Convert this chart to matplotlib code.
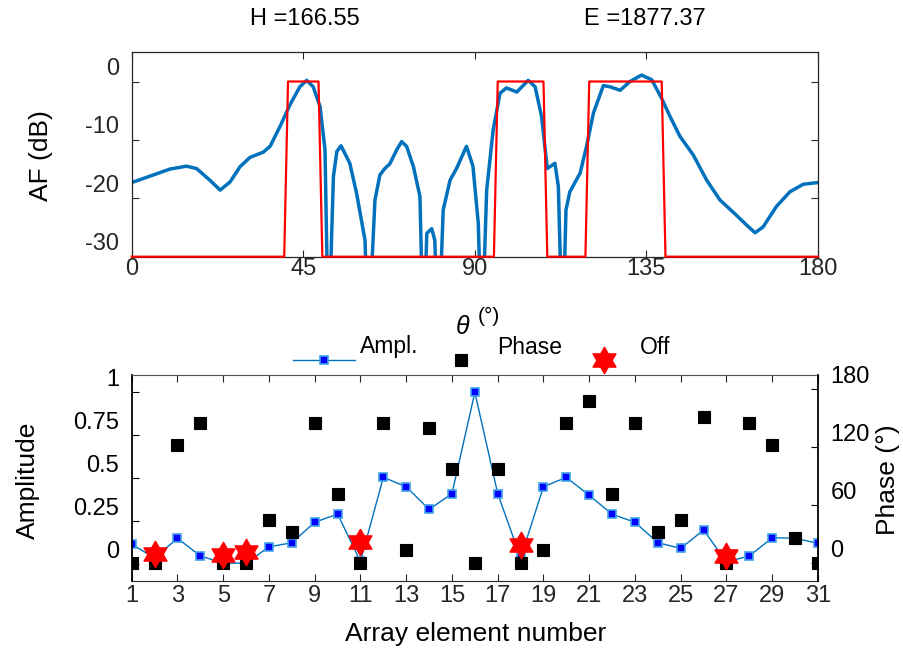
import numpy as np
import matplotlib; matplotlib.use("Agg")
import matplotlib.pyplot as plt
from matplotlib.path import Path
from matplotlib.transforms import ScaledTranslation

plt.rcParams.update({"font.family": ["Liberation Sans", "DejaVu Sans"],
                     "axes.unicode_minus": False})

# ---- top panel: array factor vs theta ----
theta_af = [0, 5.7, 10, 14.4, 17.0, 20.5, 23.2, 25.8, 28.4, 31.0, 34.5, 36.3, 38.9, 41.5, 44.1,
            45.9, 47.6, 49.4, 50.7, 51.6, 52.9, 53.8, 54.9, 57.2, 59.0, 61.2, 62.0, 63.8, 65.1,
            66.4, 67.7, 69.5, 70.8, 72.1, 73.9, 75.6, 76.5, 77.4, 78.7, 79.5, 80.4, 81.7, 83.5,
            85.2, 87.8, 89.5, 90.9, 91.8, 93.1, 94.8, 96.6, 98.3, 101.0, 104.0, 105.8, 107.5,
            109.0, 111.0, 111.9, 113.0, 113.9, 114.9, 117.6, 119.3, 121.1, 123.7, 125.4, 128.1,
            130.7, 133.7, 136.4, 139.0, 141.2, 143.8, 147.3, 150.8, 154.3, 158.6, 161.3, 163.5,
            165.6, 169.1, 172.6, 176.1, 180]
af_db = [-17.3, -16.0, -15.0, -14.5, -14.9, -16.9, -18.6, -17.2, -14.6, -13.0, -12.1, -11.1,
         -7.7, -4.0, -0.9, 0.2, -0.9, -4.3, -11.7, -45, -16.3, -12.0, -11.0, -14.0, -19.2,
         -27.2, -45, -20.3, -16.0, -14.9, -14.1, -11.7, -10.3, -11.1, -14.6, -19.7, -45,
         -26.0, -25.2, -27.2, -45, -22.0, -16.9, -14.9, -11.1, -14.5, -24.3, -45, -18.6,
         -8.3, -2.0, -1.1, -1.8, 0.2, -0.9, -6.0, -14.9, -14.0, -18.0, -45, -22.0, -18.9,
         -15.7, -11.1, -5.4, -0.7, -0.9, -1.5, 0.0, 1.1, 0.3, -2.9, -6.0, -9.4, -12.6, -16.9,
         -20.3, -22.9, -24.6, -25.9, -24.9, -21.4, -18.9, -17.6, -17.3]
mask_theta = [0, 40, 41, 49, 50, 95, 96, 108, 109, 119, 120, 139, 140, 180]
mask_db = [-30, -30, 0, 0, -30, -30, 0, 0, -30, -30, 0, 0, -30, -30]

# ---- bottom panel: excitations ----
elements = np.arange(1, 32)
ampl = [0.115, 0.035, 0.15, 0.047, 0.005, 0.005, 0.10, 0.124, 0.243, 0.291, 0.015, 0.505,
        0.45, 0.318, 0.41, 1.0, 0.41, 0.035, 0.45, 0.505, 0.40, 0.29, 0.243, 0.124, 0.091,
        0.198, 0.012, 0.047, 0.153, 0.15, 0.12]
phase = [0, 0, 122, 145, 0, 0, 45, 32, 145, 72, 0, 145, 14, 140, 97, 0, 97, 0, 14, 145,
         168, 72, 145, 32, 45, 151, 0, 145, 122, 26, 0]
off_el = [2, 5, 6, 11, 18, 27]
off_val = [0.058, 0.052, 0.072, 0.13, 0.11, 0.047]

W, H = 904, 650
fig = plt.figure(figsize=(W/100, H/100), dpi=100, facecolor="white")
def fx(x): return x/W
def fy(y): return 1 - y/H
up = ScaledTranslation(0, 0.15, fig.dpi_scale_trans)
FS = 17
AXC = "#262626"

ax1 = fig.add_axes([fx(131.7), fy(256.7), fx(818)-fx(131.7), fy(52.3)-fy(256.7)])
ax1.plot(theta_af, af_db, color="#0072BD", lw=2.5, zorder=2,
         solid_joinstyle="round", solid_capstyle="round")
ax1.plot(mask_theta, mask_db, color="#FF0000", lw=1.6, zorder=3, clip_on=False)
ax1.set_xlim(0, 180); ax1.set_ylim(-30, 5)
ax1.set_xticks([0, 45, 90, 135, 180]); ax1.set_yticks([-30, -20, -10, 0])
ax1.tick_params(direction="in", top=True, right=True, length=5, width=0.8, labelsize=FS, colors=AXC)
ax1.tick_params(axis="x", pad=1); ax1.tick_params(axis="y", pad=9)
for s in ax1.spines.values(): s.set_color(AXC); s.set_linewidth(0.9)
for lab in ax1.get_yticklabels(): lab.set_transform(lab.get_transform() + up)

ax2 = fig.add_axes([fx(131.7), fy(581), fx(818)-fx(131.7), fy(375)-fy(581)])
ln, = ax2.plot(elements, ampl, "-s", color="#0072BD", lw=1.0, ms=5.4,
               mfc="#0000FF", mec="#3FA3EA", mew=1.2)
ax2.set_xlim(1, 31); ax2.set_ylim(-0.099, 1.101)
ax2.set_xticks(np.arange(1, 32, 2)); ax2.set_yticks([0, 0.25, 0.5, 0.75, 1])
ax2.set_yticklabels(["0", "0.25", "0.5", "0.75", "1"])
ax2.tick_params(direction="in", top=True, length=5, width=0.8, labelsize=FS, colors=AXC)
ax2.tick_params(axis="x", pad=3); ax2.tick_params(axis="y", pad=9, colors="black")
ax2.spines["right"].set_visible(False)
ax2.spines["top"].set_color("#555555"); ax2.spines["bottom"].set_color(AXC)
ax2.spines["left"].set_color("black"); ax2.spines["left"].set_linewidth(1.3)

ax2r = ax2.twinx()
ph, = ax2r.plot(elements, phase, "s", color="black", ms=8.3, mew=0.8, ls="none")
ax2r.set_ylim(-18.3, 194.5); ax2r.set_yticks([0, 60, 120, 180])
ax2r.tick_params(direction="in", length=5, width=0.8, labelsize=FS, pad=9, colors="black")
for k in ("top", "bottom", "left"): ax2r.spines[k].set_visible(False)
ax2r.spines["right"].set_color("black"); ax2r.spines["right"].set_linewidth(1.3)

star = Path.unit_regular_star(6, 1/np.sqrt(3))
ax2s = ax2.twinx()
st, = ax2s.plot(off_el, off_val, marker=star, ms=19, color="#FF0000", ls="none")
ax2s.set_ylim(ax2.get_ylim()); ax2s.axis("off")

for lab in ax2.get_yticklabels() + ax2r.get_yticklabels():
    lab.set_transform(lab.get_transform() + up)

leg = fig.legend([ln, ph, st], ["Ampl.", "Phase", "Off"], ncol=3, loc="center left",
                 bbox_to_anchor=(fx(293), fy(362)), frameon=False, borderpad=0,
                 borderaxespad=0, handlelength=2.7, handletextpad=0.22,
                 columnspacing=0.5, fontsize=16.5)
for t in leg.get_texts(): t.set_transform(t.get_transform() + up)

# texts
fig.text(fx(305), fy(19), "H =166.55", fontsize=17, ha="center", va="center")
fig.text(fx(645), fy(19), "E =1877.37", fontsize=17, ha="center", va="center")
fig.text(fx(463), fy(327), "θ", fontsize=18, style="italic", ha="center", va="center")
fig.text(fx(489), fy(316), "(°)", fontsize=15, ha="center", va="center")
fig.text(fx(41), fy(156), "AF (dB)", fontsize=19, rotation=90, ha="center", va="center")
fig.text(fx(28), fy(480), "Amplitude", fontsize=19, rotation=90, ha="center", va="center")
fig.text(fx(888), fy(480), "Phase (°)", fontsize=19, rotation=90, ha="center", va="center")
fig.text(fx(476), fy(634), "Array element number", fontsize=19, ha="center", va="center")

fig.savefig("out.png", dpi=100, facecolor="white")
